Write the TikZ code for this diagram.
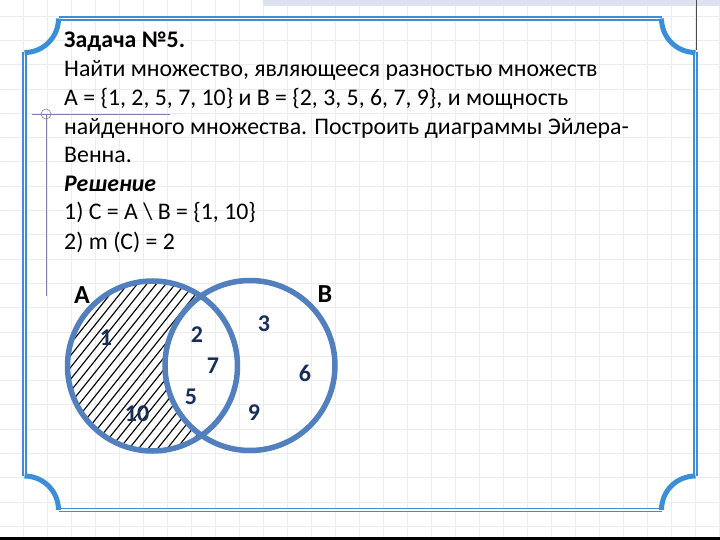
\documentclass[tikz,border=0pt]{standalone}
\usepackage{fontspec}
\setmainfont{Carlito}
\definecolor{frameblue}{RGB}{58,143,216}
\definecolor{vennblue}{RGB}{82,128,190}
\definecolor{numnavy}{RGB}{24,46,90}
\definecolor{gridc}{RGB}{234,236,240}
\definecolor{barc}{RGB}{222,225,240}
\definecolor{guide}{RGB}{128,128,176}
\begin{document}
\begin{tikzpicture}[x=1pt,y=-1pt,
  gridline/.style={draw=gridc, line width=0.7pt},
  frameline/.style={draw=frameblue, line width=1.6pt, double=white, double distance=1.4pt},
  framecorner/.style={draw=frameblue, line width=5pt},
  guideline/.style={draw=guide, line width=0.6pt},
  hatch/.style={draw=black, line width=1.1pt},
  vennc/.style={draw=vennblue, line width=5.5pt},
  txt/.style={anchor=base west, inner sep=0pt, font=\fontsize{23.8}{28}\selectfont},
  setlbl/.style={inner sep=0pt, font=\fontsize{26}{30}\selectfont\bfseries},
  num/.style={inner sep=0pt, text=numnavy, font=\fontsize{24}{28}\selectfont\bfseries}]
\useasboundingbox (0,0) rectangle (720,540);
\fill[white] (0,0) rectangle (720,540);
% grid
\foreach \i in {0,...,29} \draw[gridline] ({23+24*\i},0) -- ({23+24*\i},540);
\foreach \j in {0,...,21} \draw[gridline] (0,{16+24.3*\j}) -- (720,{16+24.3*\j});
% top bar and bottom line
\fill[barc] (263,0) rectangle (720,6);
\draw[black!70, line width=0.8pt] (696,0) -- (696,50);
\fill[black] (0,537) rectangle (720,540);
% guide lines
\draw[guideline] (32,114) -- (170,114);
\draw[guideline] (46,114) -- (46,296);
\draw[guideline] (46,114) circle[radius=5];
% frame
\draw[frameline] (58.5,18.5) -- (661.5,18.5);
\draw[frameline] (695.5,52.5) -- (695.5,476);
\draw[frameline] (661.5,510) -- (58.5,510);
\draw[frameline] (24.5,476) -- (24.5,52.5);
\draw[framecorner] (58.5,18.5) .. controls (58.5,37.3) and (43.3,52.5) .. (24.5,52.5);
\draw[framecorner] (661.5,18.5) .. controls (661.5,37.3) and (676.3,52.5) .. (695.5,52.5);
\draw[framecorner] (661.5,510) .. controls (661.5,491.2) and (676.3,476) .. (695.5,476);
\draw[framecorner] (24.5,476) .. controls (43.3,476) and (58.5,491.2) .. (58.5,510);
% text
\node[txt, font=\fontsize{23.8}{28}\selectfont\bfseries] (t1) at (64,48) {Задача №5.};
\node[txt] (t2) at (64,76.5) {Найти множество, являющееся разностью множеств};
\node[txt] (t3) at (64,105.5) {А = \{1, 2, 5, 7, 10\} и В = \{2, 3, 5, 6, 7, 9\}, и мощность};
\node[txt] (t4) at (64,134.5) {найденного множества. Построить диаграммы Эйлера-};
\node[txt] (t5) at (64,163) {Венна.};
\node[txt, font=\fontsize{23.8}{28}\selectfont\bfseries\itshape] (t6) at (64,191.5) {Решение};
\node[txt] (t7) at (64,220) {1) С = А \textbackslash{} В = \{1, 10\}};
\node[txt] (t8) at (64,249) {2) m (С) = 2};
% venn
\coordinate (ca) at (152.5,366);
\coordinate (cb) at (250,365.5);
\begin{scope}[even odd rule]
  \clip (ca) circle[radius=85];
  \clip (0,0) rectangle (720,540) (cb) circle[radius=85];
  \foreach \k in {-20,...,30} \draw[hatch] ({-40+9.5*\k},470) -- ({-40+9.5*\k+160},270);
\end{scope}
\draw[vennc] (ca) circle[radius=85];
\draw[vennc] (cb) circle[radius=85];
\node[setlbl] (la) at (82,295) {A};
\node[setlbl] (lb) at (325,294) {B};
\node[num] (n1) at (106,338) {1};
\node[num] (n2) at (197,335) {2};
\node[num] (n3) at (264,324) {3};
\node[num] (n7) at (213,366) {7};
\node[num] (n6) at (305,373) {6};
\node[num] (n5) at (191,397) {5};
\node[num] (n10) at (137,414) {10};
\node[num] (n9) at (254,413) {9};
\end{tikzpicture}
\end{document}
